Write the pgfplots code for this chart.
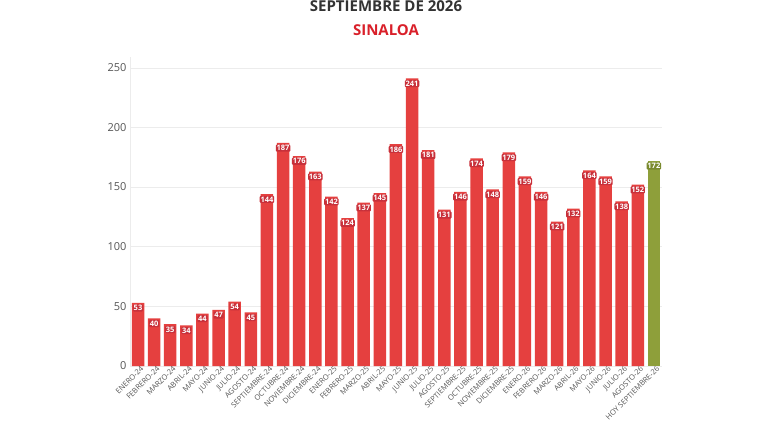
\documentclass[border=0pt]{standalone}
\usepackage{pgfplots}
\pgfplotsset{compat=1.18}
\usepackage{fontspec}
\setmainfont{Open Sans}

\definecolor{barred}{HTML}{E5403F}
\definecolor{labred}{HTML}{C8303A}
\definecolor{bargreen}{HTML}{8E9F3A}
\definecolor{labgreen}{HTML}{7A8A2E}
\definecolor{titlegray}{HTML}{333333}
\definecolor{titlered}{HTML}{D9202A}
\definecolor{tickgray}{HTML}{555555}

\begin{document}
\begin{tikzpicture}
\path[use as bounding box] (0pt,0pt) rectangle (768pt,432pt);

\node[anchor=base, font=\bfseries\fontsize{15}{18}\selectfont, text=titlegray] at (386pt,420pt) {SEPTIEMBRE DE 2026};
\node[anchor=base, font=\bfseries\fontsize{15}{18}\selectfont, text=titlered] at (386pt,396pt) {SINALOA};

\begin{axis}[
    at={(138pt,66pt)}, anchor=origin,
    scale only axis,
    width=532pt, height=309pt,
    ymin=0, ymax=259,
    xmin=-0.5, xmax=32.5,
    ybar, bar width=12.5pt, bar shift=0pt,
    axis lines*=left,
    x axis line style={draw=none},
    y axis line style={draw=gray!15},
    ymajorgrids, grid style={draw=gray!15},
    ytick={0,50,100,150,200,250},
    major tick length=0pt,
    yticklabel style={font=\fontsize{11}{13}\selectfont, text=tickgray},
    xtick={0,...,32},
    xticklabels={ENERO-24,FEBRERO-24,MARZO-24,ABRIL-24,MAYO-24,JUNIO-24,JULIO-24,AGOSTO-24,SEPTIEMBRE-24,OCTUBRE-24,NOVIEMBRE-24,DICIEMBRE-24,ENERO-25,FEBRERO-25,MARZO-25,ABRIL-25,MAYO-25,JUNIO-25,JULIO-25,AGOSTO-25,SEPTIEMBRE-25,OCTUBRE-25,NOVIEMBRE-25,DICIEMBRE-25,ENERO-26,FEBRERO-26,MARZO-26,ABRIL-26,MAYO-26,JUNIO-26,JULIO-26,AGOSTO-26,HOY SEPTIEMBRE-26},
    xticklabel style={rotate=45, anchor=north east, font=\fontsize{7.5}{9}\selectfont, text=tickgray, inner sep=1pt, xshift=3pt},
    nodes near coords,
    every node near coord/.append style={font=\bfseries\fontsize{7.5}{9}\selectfont, text=white, anchor=north, yshift=-1.5pt, inner sep=0.8pt, rounded corners=1pt},
    /pgf/number format/assume math mode=true,
]
\addplot[fill=barred, draw=none, every node near coord/.append style={fill=labred}] table {
x y
0 53
1 40
2 35
3 34
4 44
5 47
6 54
7 45
8 144
9 187
10 176
11 163
12 142
13 124
14 137
15 145
16 186
17 241
18 181
19 131
20 146
21 174
22 148
23 179
24 159
25 146
26 121
27 132
28 164
29 159
30 138
31 152
};
\addplot[fill=bargreen, draw=none, every node near coord/.append style={fill=labgreen}] table {
x y
32 172
};
\end{axis}
\end{tikzpicture}
\end{document}
